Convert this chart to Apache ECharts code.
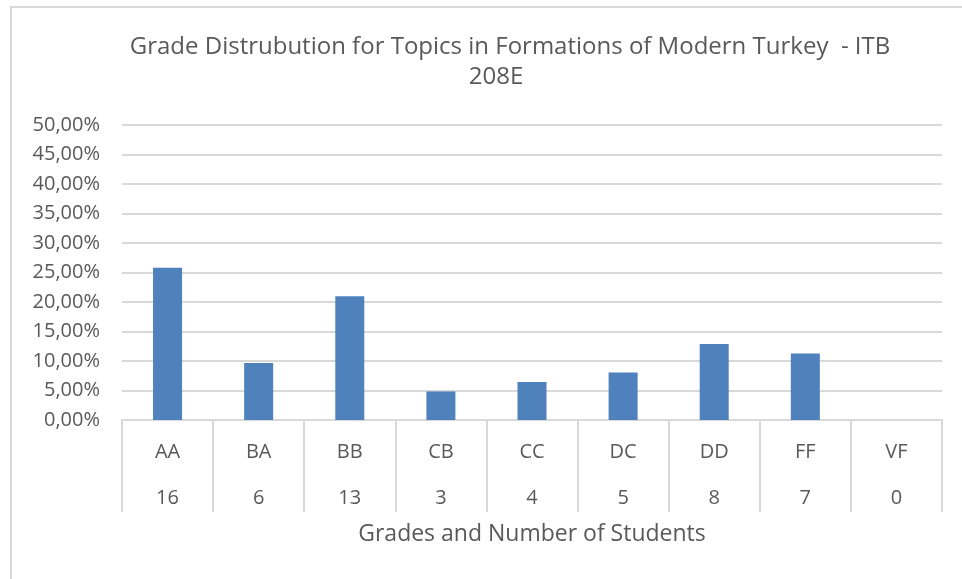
<!DOCTYPE html>
<html>
<head>
<meta charset="utf-8">
<script src="https://cdn.jsdelivr.net/npm/echarts@6/dist/echarts.min.js"></script>
<style>
* { margin: 0; padding: 0; }
body { background: #fff; }
#frame { position: absolute; left: 10px; top: 6px; width: 960px; height: 580px; border: 2px solid #d9d9d9; box-sizing: border-box; }
#main { position: absolute; left: 0; top: 0; width: 962px; height: 579px; }
</style>
</head>
<body>
<div id="frame"></div>
<div id="main"></div>
<script>
// grades and how many students got each
const grades = ['AA', 'BA', 'BB', 'CB', 'CC', 'DC', 'DD', 'FF', 'VF'];
const studentCounts = ['16', '6', '13', '3', '4', '5', '8', '7', '0'];
// share of students per grade (as fraction)
const shares = [0.2581, 0.0968, 0.2097, 0.0484, 0.0645, 0.0806, 0.1290, 0.1129, 0];

const textColor = '#595959';
const lineColor = '#d9d9d9';
const font = 'Open Sans';

const chart = echarts.init(document.getElementById('main'));
chart.setOption({
  animation: false,
  title: [
    {
      text: 'Grade Distrubution for Topics in Formations of Modern Turkey  - ITB',
      left: 505,
      top: 30,
      textAlign: 'center',
      textStyle: { color: textColor, fontFamily: font, fontSize: 24, fontWeight: 'normal' }
    },
    {
      text: '208E',
      left: 491,
      top: 60,
      textAlign: 'center',
      textStyle: { color: textColor, fontFamily: font, fontSize: 24, fontWeight: 'normal' }
    }
  ],
  grid: { left: 122, right: 20, top: 125, bottom: 159 },
  xAxis: [
    {
      type: 'category',
      data: grades,
      position: 'bottom',
      axisLine: { lineStyle: { color: lineColor, width: 2 } },
      axisTick: { show: true, interval: 0, length: 92, lineStyle: { color: lineColor, width: 2 } },
      axisLabel: { interval: 0, margin: 22, color: textColor, fontFamily: font, fontSize: 20 }
    },
    {
      type: 'category',
      data: studentCounts,
      position: 'bottom',
      axisLine: { show: false },
      axisTick: { show: false },
      axisLabel: { interval: 0, margin: 68, color: textColor, fontFamily: font, fontSize: 20 },
      name: 'Grades and Number of Students',
      nameLocation: 'middle',
      nameGap: 103,
      nameTextStyle: { color: textColor, fontFamily: font, fontSize: 23, verticalAlign: 'top' }
    }
  ],
  yAxis: {
    type: 'value',
    min: 0,
    max: 0.5,
    interval: 0.05,
    axisLine: { show: false },
    axisTick: { show: false },
    splitLine: { lineStyle: { color: lineColor, width: 2 } },
    axisLabel: {
      margin: 22,
      color: textColor,
      fontFamily: font,
      fontSize: 20,
      formatter: v => (v * 100).toFixed(2).replace('.', ',') + '%'
    }
  },
  series: [
    {
      type: 'bar',
      xAxisIndex: 0,
      data: shares,
      barWidth: 29,
      itemStyle: { color: '#4f81bd' }
    }
  ]
});
</script>
</body>
</html>
